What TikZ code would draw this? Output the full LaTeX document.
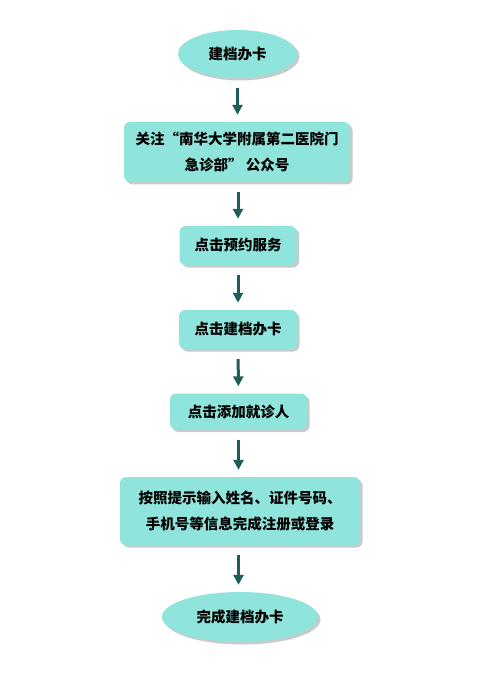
\documentclass[tikz,border=0pt]{standalone}
\usepackage{fontspec}
\newfontfamily\cjk{Noto Sans CJK SC}
\definecolor{boxfill}{RGB}{143,228,219}
\definecolor{arrowteal}{RGB}{30,94,90}
\definecolor{shadowgray}{RGB}{185,190,190}
\usetikzlibrary{arrows.meta, shapes.geometric, shadows}

\begin{document}
\begin{tikzpicture}[x=1pt, y=-1pt,
  every node/.style={font=\cjk\bfseries\fontsize{14.5}{26}\selectfont, text=black},
  stepbox/.style={rectangle, rounded corners=6pt, fill=boxfill, inner sep=0pt,
    drop shadow={shadow xshift=2.5pt, shadow yshift=-2.5pt, fill=shadowgray, opacity=0.8}},
  endbox/.style={ellipse, fill=boxfill, inner sep=0pt,
    drop shadow={shadow xshift=2.5pt, shadow yshift=-2.5pt, fill=shadowgray, opacity=0.8}},
  flow/.style={-{Triangle[length=10pt, width=10pt]}, line width=3pt, color=arrowteal,
    shorten <=10pt, shorten >=7pt}]
\useasboundingbox (0,0) rectangle (499,684);
% start and end
\node[endbox, minimum width=119pt, minimum height=48pt] (start) at (237.5,54) {建档办卡};
\node[endbox, minimum width=156pt, minimum height=50pt] (done) at (240,617) {完成建档办卡};
% steps
\node[stepbox, minimum width=226pt, minimum height=60pt, align=center] (follow) at (237,152)
  {关注“南华大学附属第二医院门\\急诊部” 公众号};
\node[stepbox, minimum width=117pt, minimum height=39pt] (book) at (238,245.5) {点击预约服务};
\node[stepbox, minimum width=118pt, minimum height=39pt] (card) at (238,329.5) {点击建档办卡};
\node[stepbox, minimum width=137pt, minimum height=36pt] (patient) at (238.5,411.5) {点击添加就诊人};
\node[stepbox, minimum width=240pt, minimum height=68pt, align=center] (register) at (240,511)
  {按照提示输入姓名、证件号码、\\手机号等信息完成注册或登录};
% arrows
\draw[flow] (start.south) -- (follow.north -| start.south);
\draw[flow] (follow.south -| book.north) -- (book.north);
\draw[flow] (book) -- (card);
\draw[flow] (card) -- (patient);
\draw[flow] (patient) -- (register.north -| patient.south);
\draw[flow] (register.south -| patient.south) -- (done.north -| patient.south);
\end{tikzpicture}
\end{document}
